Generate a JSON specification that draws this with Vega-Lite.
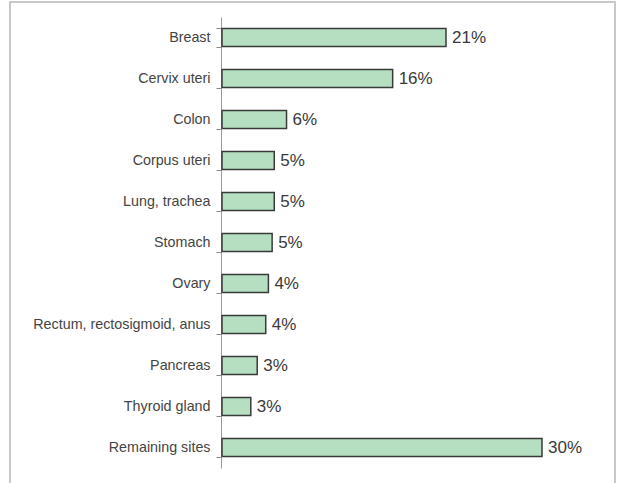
{
  "$schema": "https://vega.github.io/schema/vega-lite/v6.json",
  "autosize": {"type": "none"},
  "padding": {"left": 10, "top": 2, "right": 6, "bottom": -4},
  "width": 605,
  "height": 485,
  "background": "#ffffff",
  "config": {
    "view": {"stroke": "#c8c8c8", "strokeWidth": 2},
    "font": "Liberation Sans"
  },
  "data": {
    "values": [
      {"site": "Breast", "pct": 21.0, "label": "21%"},
      {"site": "Cervix uteri", "pct": 16.0, "label": "16%"},
      {"site": "Colon", "pct": 6.05, "label": "6%"},
      {"site": "Corpus uteri", "pct": 4.9, "label": "5%"},
      {"site": "Lung, trachea", "pct": 4.9, "label": "5%"},
      {"site": "Stomach", "pct": 4.7, "label": "5%"},
      {"site": "Ovary", "pct": 4.35, "label": "4%"},
      {"site": "Rectum, rectosigmoid, anus", "pct": 4.1, "label": "4%"},
      {"site": "Pancreas", "pct": 3.3, "label": "3%"},
      {"site": "Thyroid gland", "pct": 2.7, "label": "3%"},
      {"site": "Remaining sites", "pct": 30.0, "label": "30%"}
    ]
  },
  "encoding": {
    "y": {
      "field": "site",
      "type": "nominal",
      "sort": null,
      "scale": {"range": [15, 466], "paddingInner": 0.56, "paddingOuter": 0.28},
      "axis": {
        "title": null,
        "orient": "left",
        "offset": -211,
        "ticks": true,
        "tickBand": "extent",
        "tickSize": 5,
        "tickWidth": 1,
        "tickOpacity": 1,
        "labelPadding": 6,
        "labelFontSize": 14.3,
        "labelColor": "#444444",
        "domainColor": "#9a9a9a",
        "tickColor": "#888888",
        "labelLimit": 300
      }
    },
    "x": {
      "field": "pct",
      "type": "quantitative",
      "scale": {"domain": [0, 30], "range": [212, 532], "nice": false, "zero": true},
      "axis": null
    }
  },
  "layer": [
    {
      "mark": {"type": "bar", "fill": "#b5dfc0", "stroke": "#3a3a3a", "strokeWidth": 1.5}
    },
    {
      "mark": {"type": "text", "align": "left", "baseline": "middle", "dx": 6, "fontSize": 17, "color": "#3a3a3a"},
      "encoding": {"text": {"field": "label"}}
    }
  ]
}
